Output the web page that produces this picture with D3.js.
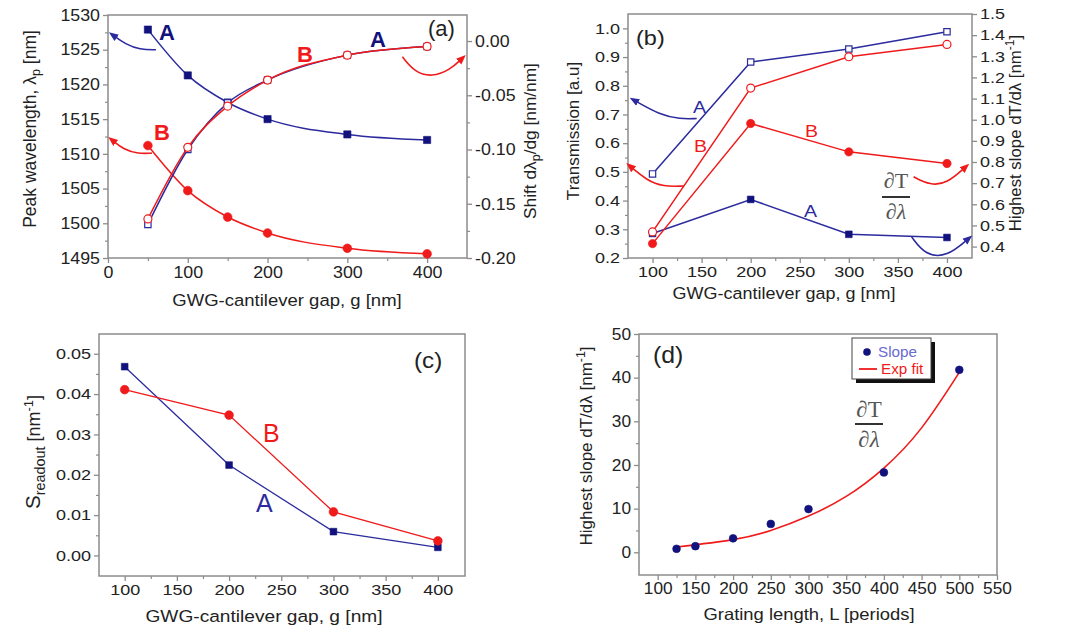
<!DOCTYPE html>
<html>
<head>
<meta charset="utf-8">
<script src="https://cdn.jsdelivr.net/npm/d3@7"></script>
<style>
  body { margin: 0; background: #fff; }
  svg text { font-family: Arial, "Liberation Sans", sans-serif; }
</style>
</head>
<body>
<svg id="fig" width="1067" height="635"></svg>
<script>
// ---------- data ----------
// (a) peak wavelength (left axis) and shift (right axis) vs gap
const gapA = [50, 100, 150, 200, 300, 400];
const peakA = [1527.9, 1521.3, 1517.4, 1515.0, 1512.8, 1512.0];
const peakB = [1511.2, 1504.7, 1500.9, 1498.6, 1496.4, 1495.6];
const shiftA = [-0.169, -0.100, -0.057, -0.036, -0.013, -0.005];
const shiftB = [-0.164, -0.098, -0.060, -0.036, -0.013, -0.005];
const aXTicks = [0, 100, 200, 300, 400];
const aYTicks = [1495, 1500, 1505, 1510, 1515, 1520, 1525, 1530];
const aY2Ticks = [0, -0.05, -0.10, -0.15, -0.20];

// (b) transmission (left) and highest slope (right) vs gap
const gapB = [100, 200, 300, 400];
const transA = [0.493, 0.883, 0.928, 0.988];
const transB = [0.291, 0.792, 0.901, 0.944];
const slopeA = [0.462, 0.623, 0.458, 0.443];
const slopeB = [0.414, 0.982, 0.848, 0.793];
const bXTicks = [100, 150, 200, 250, 300, 350, 400];
const bYTicks = [0.2, 0.3, 0.4, 0.5, 0.6, 0.7, 0.8, 0.9, 1.0];
const bY2Ticks = [0.4, 0.5, 0.6, 0.7, 0.8, 0.9, 1.0, 1.1, 1.2, 1.3, 1.4, 1.5];

// (c) readout sensitivity vs gap
const gapC = [100, 200, 300, 400];
const readA = [0.0468, 0.0224, 0.0059, 0.0020];
const readB = [0.0411, 0.0348, 0.0108, 0.0036];
const cXTicks = [100, 150, 200, 250, 300, 350, 400];
const cYTicks = [0, 0.01, 0.02, 0.03, 0.04, 0.05];

// (d) highest slope vs grating length, with exponential fit
const lengths = [125, 150, 200, 250, 300, 400, 500];
const slopes = [0.8, 1.4, 3.2, 6.5, 9.9, 18.3, 41.8];
const fitL = [125, 200, 250, 300, 350, 400, 450, 500];
const fitV = [1.2, 2.9, 5.0, 8.3, 12.8, 19.3, 28.5, 41.2];
const dXTicks = [100, 150, 200, 250, 300, 350, 400, 450, 500, 550];
const dYTicks = [0, 10, 20, 30, 40, 50];

// annotation arrows, in data units of their panel
const arrowA1 = [[60, 1525], [40, 1525], [22, 1525.8], [6, 1527.1]];
const arrowA2 = [[55, 1510.1], [38, 1510], [20, 1510.6], [5, 1512]];
const arrowA3 = [[369, -0.0145], [385, -0.029], [406, -0.033], [428, -0.027], [444, -0.016]];
const arrowB1 = [[145, 0.686], [128, 0.684], [108, 0.698], [81, 0.75]];
const arrowB2 = [[132, 0.451], [111, 0.448], [94, 0.471], [77, 0.52]];
const arrowB3 = [[366, 0.73], [383, 0.69], [400, 0.698], [419, 0.777]];
const arrowB4 = [[364, 0.446], [378, 0.359], [400, 0.351], [422, 0.438]];

// ---------- styles ----------
const BLUE = '#12127e';
const BLUE_LINE = '#2b2b9e';
const RED = '#f01a1a';
const AXIS = '#8c8c8c';
const TXT = '#222';
const SERIF = '"Liberation Serif", "DejaVu Serif", serif';

const svg = d3.select('#fig');
svg.append('rect').attr('width', 1067).attr('height', 635).attr('fill', '#fff');

const defs = svg.append('defs');
[['arBlue', BLUE_LINE], ['arRed', RED]].forEach(([id, c]) => {
  defs.append('marker')
    .attr('id', id)
    .attr('viewBox', '0 0 10 10')
    .attr('refX', 5).attr('refY', 5)
    .attr('markerWidth', 6).attr('markerHeight', 6)
    .attr('orient', 'auto')
    .append('path').attr('d', 'M0,1 L10,5 L0,9 Z').attr('fill', c);
});

const f2 = d => d.toFixed(2);
const f1 = d => d.toFixed(1);
const f0 = d => String(d);

function addAxis(g, axis, major, minor, transform, fmt, side, fs, sx) {
  if (minor) {
    g.append('g').attr('transform', transform)
      .call(axis.tickValues(minor).tickFormat(() => '').tickSize(3))
      .call(s => {
        s.select('.domain').remove();
        s.selectAll('line').attr('stroke', AXIS).attr('stroke-width', 1.2);
      });
  }
  const a = g.append('g').attr('transform', transform)
    .call(axis.tickValues(major).tickFormat(fmt).tickSize(5).tickPadding(3));
  a.select('.domain').remove();
  a.selectAll('line').attr('stroke', AXIS).attr('stroke-width', 1.3);
  const t = a.selectAll('text')
    .attr('font-size', fs)
    .attr('fill', TXT)
    .attr('transform', `scale(${sx},1)`);
  if (side === 'left') t.attr('x', -8 / sx);
  if (side === 'right') t.attr('x', 8 / sx);
}

function makePanel(o) {
  const g = svg.append('g');
  const x = d3.scaleLinear().domain(o.xDom).range([o.l, o.r]);
  const y = d3.scaleLinear().domain(o.yDom).range([o.b, o.t]);
  const y2 = o.y2Dom ? d3.scaleLinear().domain(o.y2Dom).range([o.b, o.t]) : null;
  g.append('rect')
    .attr('x', o.l).attr('y', o.t)
    .attr('width', o.r - o.l).attr('height', o.b - o.t)
    .attr('fill', 'none').attr('stroke', AXIS).attr('stroke-width', 1.5);
  addAxis(g, d3.axisBottom(x), o.xTicks, o.xMinor, `translate(0,${o.b})`, o.xFmt, 'bottom', o.fs, o.sx);
  addAxis(g, d3.axisLeft(y), o.yTicks, o.yMinor, `translate(${o.l},0)`, o.yFmt, 'left', o.fs, o.sx);
  if (y2) addAxis(g, d3.axisRight(y2), o.y2Ticks, o.y2Minor, `translate(${o.r},0)`, o.y2Fmt, 'right', o.fs, o.sx);
  return { g, x, y, y2 };
}

function series(p, xs, ys, yScale, o) {
  const pts = xs.map((v, i) => [p.x(v), yScale(ys[i])]);
  p.g.append('path')
    .attr('d', d3.line().curve(o.curve || d3.curveLinear)(pts))
    .attr('fill', 'none').attr('stroke', o.line).attr('stroke-width', o.lw || 1.5);
  if (o.noMarks) return;
  const sym = d3.symbol().type(o.shape === 'sq' ? d3.symbolSquare : d3.symbolCircle).size(o.size);
  p.g.selectAll(null).data(pts).join('path')
    .attr('transform', d => `translate(${d[0]},${d[1]})`)
    .attr('d', sym)
    .attr('fill', o.open ? '#fff' : o.color)
    .attr('stroke', o.color)
    .attr('stroke-width', o.open ? 1.2 : 0.6);
}

function arrow(p, pts, yScale, color, marker) {
  p.g.append('path')
    .attr('d', d3.line().x(d => p.x(d[0])).y(d => yScale(d[1])).curve(d3.curveBasis)(pts))
    .attr('fill', 'none').attr('stroke', color).attr('stroke-width', 1.6)
    .attr('marker-end', `url(#${marker})`);
}

// text helper; parts = [{t, size, dy}] for sub/superscripts
function label(x, y, str, o = {}) {
  const fs = o.fs || 16;
  const t = svg.append('text')
    .attr('transform', `translate(${x},${y})${o.rot ? ' rotate(-90)' : ''} scale(${o.sx || 1},1)`)
    .attr('font-size', fs)
    .attr('font-weight', o.bold ? 'bold' : 'normal')
    .attr('fill', o.fill || TXT)
    .attr('text-anchor', o.anchor || 'start');
  if (Array.isArray(str)) {
    str.forEach(part => {
      const s = t.append('tspan').text(part.t).attr('font-size', fs * (part.size || 1));
      if (part.dy) s.attr('dy', part.dy);
    });
  } else t.text(str);
  return t;
}

function frac(cx, yTop, yLine, yBot, fs) {
  const c = '#555';
  svg.append('text').attr('x', cx).attr('y', yTop).attr('text-anchor', 'middle')
    .style('font-family', SERIF)
    .attr('font-size', fs).attr('fill', c).text('\u2202T');
  svg.append('line').attr('x1', cx - 14).attr('x2', cx + 14).attr('y1', yLine).attr('y2', yLine)
    .attr('stroke', '#333').attr('stroke-width', 2);
  svg.append('text').attr('x', cx).attr('y', yBot).attr('text-anchor', 'middle')
    .style('font-family', SERIF)
    .attr('font-style', 'italic')
    .attr('font-size', fs).attr('fill', c).text('\u2202\u03bb');
}

const mid = ticks => ticks.slice(0, -1).map((v, i) => (v + ticks[i + 1]) / 2);
const nmInv = [{ t: '-1', size: 0.72, dy: -7 }, { t: ']', dy: 7 }];

// ---------- panel (a) ----------
const pa = makePanel({
  l: 108, t: 15, r: 467, b: 258,
  xDom: [0, 450], yDom: [1495, 1530], y2Dom: [-0.2, 0.024],
  xTicks: aXTicks, xMinor: mid(aXTicks),
  yTicks: aYTicks, yMinor: mid(aYTicks),
  y2Ticks: aY2Ticks, y2Minor: mid(aY2Ticks),
  xFmt: f0, yFmt: f0, y2Fmt: f2, fs: 16.5, sx: 1.08
});
const smooth = d3.curveMonotoneX;
series(pa, gapA, peakA, pa.y, { line: BLUE_LINE, color: BLUE, shape: 'sq', size: 52, curve: smooth });
series(pa, gapA, peakB, pa.y, { line: RED, color: RED, shape: 'ci', size: 60, curve: smooth });
series(pa, gapA, shiftA, pa.y2, { line: BLUE_LINE, color: BLUE_LINE, shape: 'sq', size: 40, open: true, curve: smooth });
series(pa, gapA, shiftB, pa.y2, { line: RED, color: RED, shape: 'ci', size: 50, open: true, curve: smooth });
arrow(pa, arrowA1, pa.y, BLUE_LINE, 'arBlue');
arrow(pa, arrowA2, pa.y, RED, 'arRed');
arrow(pa, arrowA3, pa.y2, RED, 'arRed');
label(159, 40, 'A', { fs: 22, bold: true, fill: BLUE });
label(370, 47, 'A', { fs: 22, bold: true, fill: BLUE });
label(297, 62, 'B', { fs: 22, bold: true, fill: RED });
label(154, 140, 'B', { fs: 22, bold: true, fill: RED });
label(428, 36, '(a)', { fs: 22 });
label(36, 129, [{ t: 'Peak wavelength, \u03bb' }, { t: 'p', size: 0.72, dy: 4 }, { t: ' [nm]', dy: -4 }], { fs: 17.5, rot: true, anchor: 'middle' });
label(536, 141, [{ t: 'Shift d\u03bb' }, { t: 'p', size: 0.72, dy: 4 }, { t: '/dg [nm/nm]', dy: -4 }], { fs: 17.3, rot: true, anchor: 'middle' });
label(287, 306, 'GWG-cantilever gap, g [nm]', { fs: 17, sx: 1.09, anchor: 'middle' });

// ---------- panel (b) ----------
const pb = makePanel({
  l: 628, t: 14, r: 972, b: 258,
  xDom: [75, 425.5], yDom: [0.2, 1.05], y2Dom: [0.346, 1.5],
  xTicks: bXTicks, xMinor: mid(bXTicks),
  yTicks: bYTicks, yMinor: mid(bYTicks),
  y2Ticks: bY2Ticks, y2Minor: null,
  xFmt: f0, yFmt: f1, y2Fmt: f1, fs: 15, sx: 1.2
});
series(pb, gapB, slopeA, pb.y2, { line: BLUE_LINE, color: BLUE, shape: 'sq', size: 45 });
series(pb, gapB, slopeB, pb.y2, { line: RED, color: RED, shape: 'ci', size: 55 });
series(pb, gapB, transA, pb.y, { line: BLUE_LINE, color: BLUE_LINE, shape: 'sq', size: 40, open: true });
series(pb, gapB, transB, pb.y, { line: RED, color: RED, shape: 'ci', size: 50, open: true });
arrow(pb, arrowB1, pb.y, BLUE_LINE, 'arBlue');
arrow(pb, arrowB2, pb.y, RED, 'arRed');
arrow(pb, arrowB3, pb.y2, RED, 'arRed');
arrow(pb, arrowB4, pb.y2, BLUE_LINE, 'arBlue');
label(693, 113, 'A', { fs: 17, fill: BLUE_LINE, sx: 1.15 });
label(694, 152, 'B', { fs: 17, fill: RED, sx: 1.15 });
label(805, 137, 'B', { fs: 17, fill: RED, sx: 1.15 });
label(804, 217, 'A', { fs: 17, fill: BLUE_LINE, sx: 1.15 });
label(636, 45, '(b)', { fs: 21, sx: 1.12 });
frac(896, 188, 197, 219, 22);
label(579, 131, 'Transmission [a.u]', { fs: 17, rot: true, anchor: 'middle' });
label(1021, 133, [{ t: 'Highest slope dT/d\u03bb [nm' }, ...nmInv], { fs: 16.8, rot: true, anchor: 'middle' });
label(784, 299, 'GWG-cantilever gap, g [nm]', { fs: 16.5, sx: 1.09, anchor: 'middle' });

// ---------- panel (c) ----------
const pc = makePanel({
  l: 99, t: 334, r: 465, b: 576,
  xDom: [75.4, 426], yDom: [-0.0051, 0.0549],
  xTicks: cXTicks, xMinor: mid(cXTicks),
  yTicks: cYTicks, yMinor: mid(cYTicks),
  xFmt: f0, yFmt: f2, fs: 15, sx: 1.2
});
series(pc, gapC, readA, pc.y, { line: BLUE_LINE, color: BLUE, shape: 'sq', size: 45, lw: 1.3 });
series(pc, gapC, readB, pc.y, { line: RED, color: RED, shape: 'ci', size: 60, lw: 1.3 });
label(263, 442, 'B', { fs: 25, fill: RED });
label(256, 512, 'A', { fs: 25, fill: BLUE_LINE });
label(414, 368, '(c)', { fs: 22, sx: 1.1 });
label(40, 452, [{ t: 'S', size: 1.15 }, { t: 'readout', size: 0.8, dy: 5 }, { t: ' [nm', dy: -5 }, ...nmInv], { fs: 18, rot: true, anchor: 'middle' });
label(264, 622, 'GWG-cantilever gap, g [nm]', { fs: 16.5, sx: 1.16, anchor: 'middle' });

// ---------- panel (d) ----------
const pd = makePanel({
  l: 639, t: 334, r: 997, b: 575,
  xDom: [75.2, 550], yDom: [-5.2, 50],
  xTicks: dXTicks, xMinor: mid(dXTicks),
  yTicks: dYTicks, yMinor: mid(dYTicks),
  xFmt: f0, yFmt: f0, fs: 16, sx: 1.08
});
series(pd, fitL, fitV, pd.y, { line: RED, lw: 1.6, noMarks: true, curve: d3.curveNatural });
series(pd, lengths, slopes, pd.y, { line: 'none', color: BLUE, shape: 'ci', size: 48 });
label(653, 363, '(d)', { fs: 23, sx: 1.08 });
frac(869, 417, 424, 447, 23);
// legend
svg.append('rect').attr('x', 856).attr('y', 342).attr('width', 79).attr('height', 41).attr('fill', '#111');
svg.append('rect').attr('x', 852).attr('y', 338).attr('width', 79).attr('height', 41)
  .attr('fill', '#fff').attr('stroke', '#444').attr('stroke-width', 1);
svg.append('circle').attr('cx', 867).attr('cy', 352).attr('r', 3.8).attr('fill', BLUE);
label(878, 357, 'Slope', { fs: 14.5, fill: '#6a6ad0', sx: 1.05 });
svg.append('line').attr('x1', 859).attr('x2', 877).attr('y1', 369).attr('y2', 369).attr('stroke', RED).attr('stroke-width', 1.8);
label(881, 374, 'Exp fit', { fs: 14.5, fill: RED, sx: 1.05 });
label(592, 446, [{ t: 'Highest slope dT/d\u03bb [nm' }, ...nmInv], { fs: 17, rot: true, anchor: 'middle' });
label(809, 620, 'Grating length, L [periods]', { fs: 16.3, sx: 1.13, anchor: 'middle' });
</script>
</body>
</html>
